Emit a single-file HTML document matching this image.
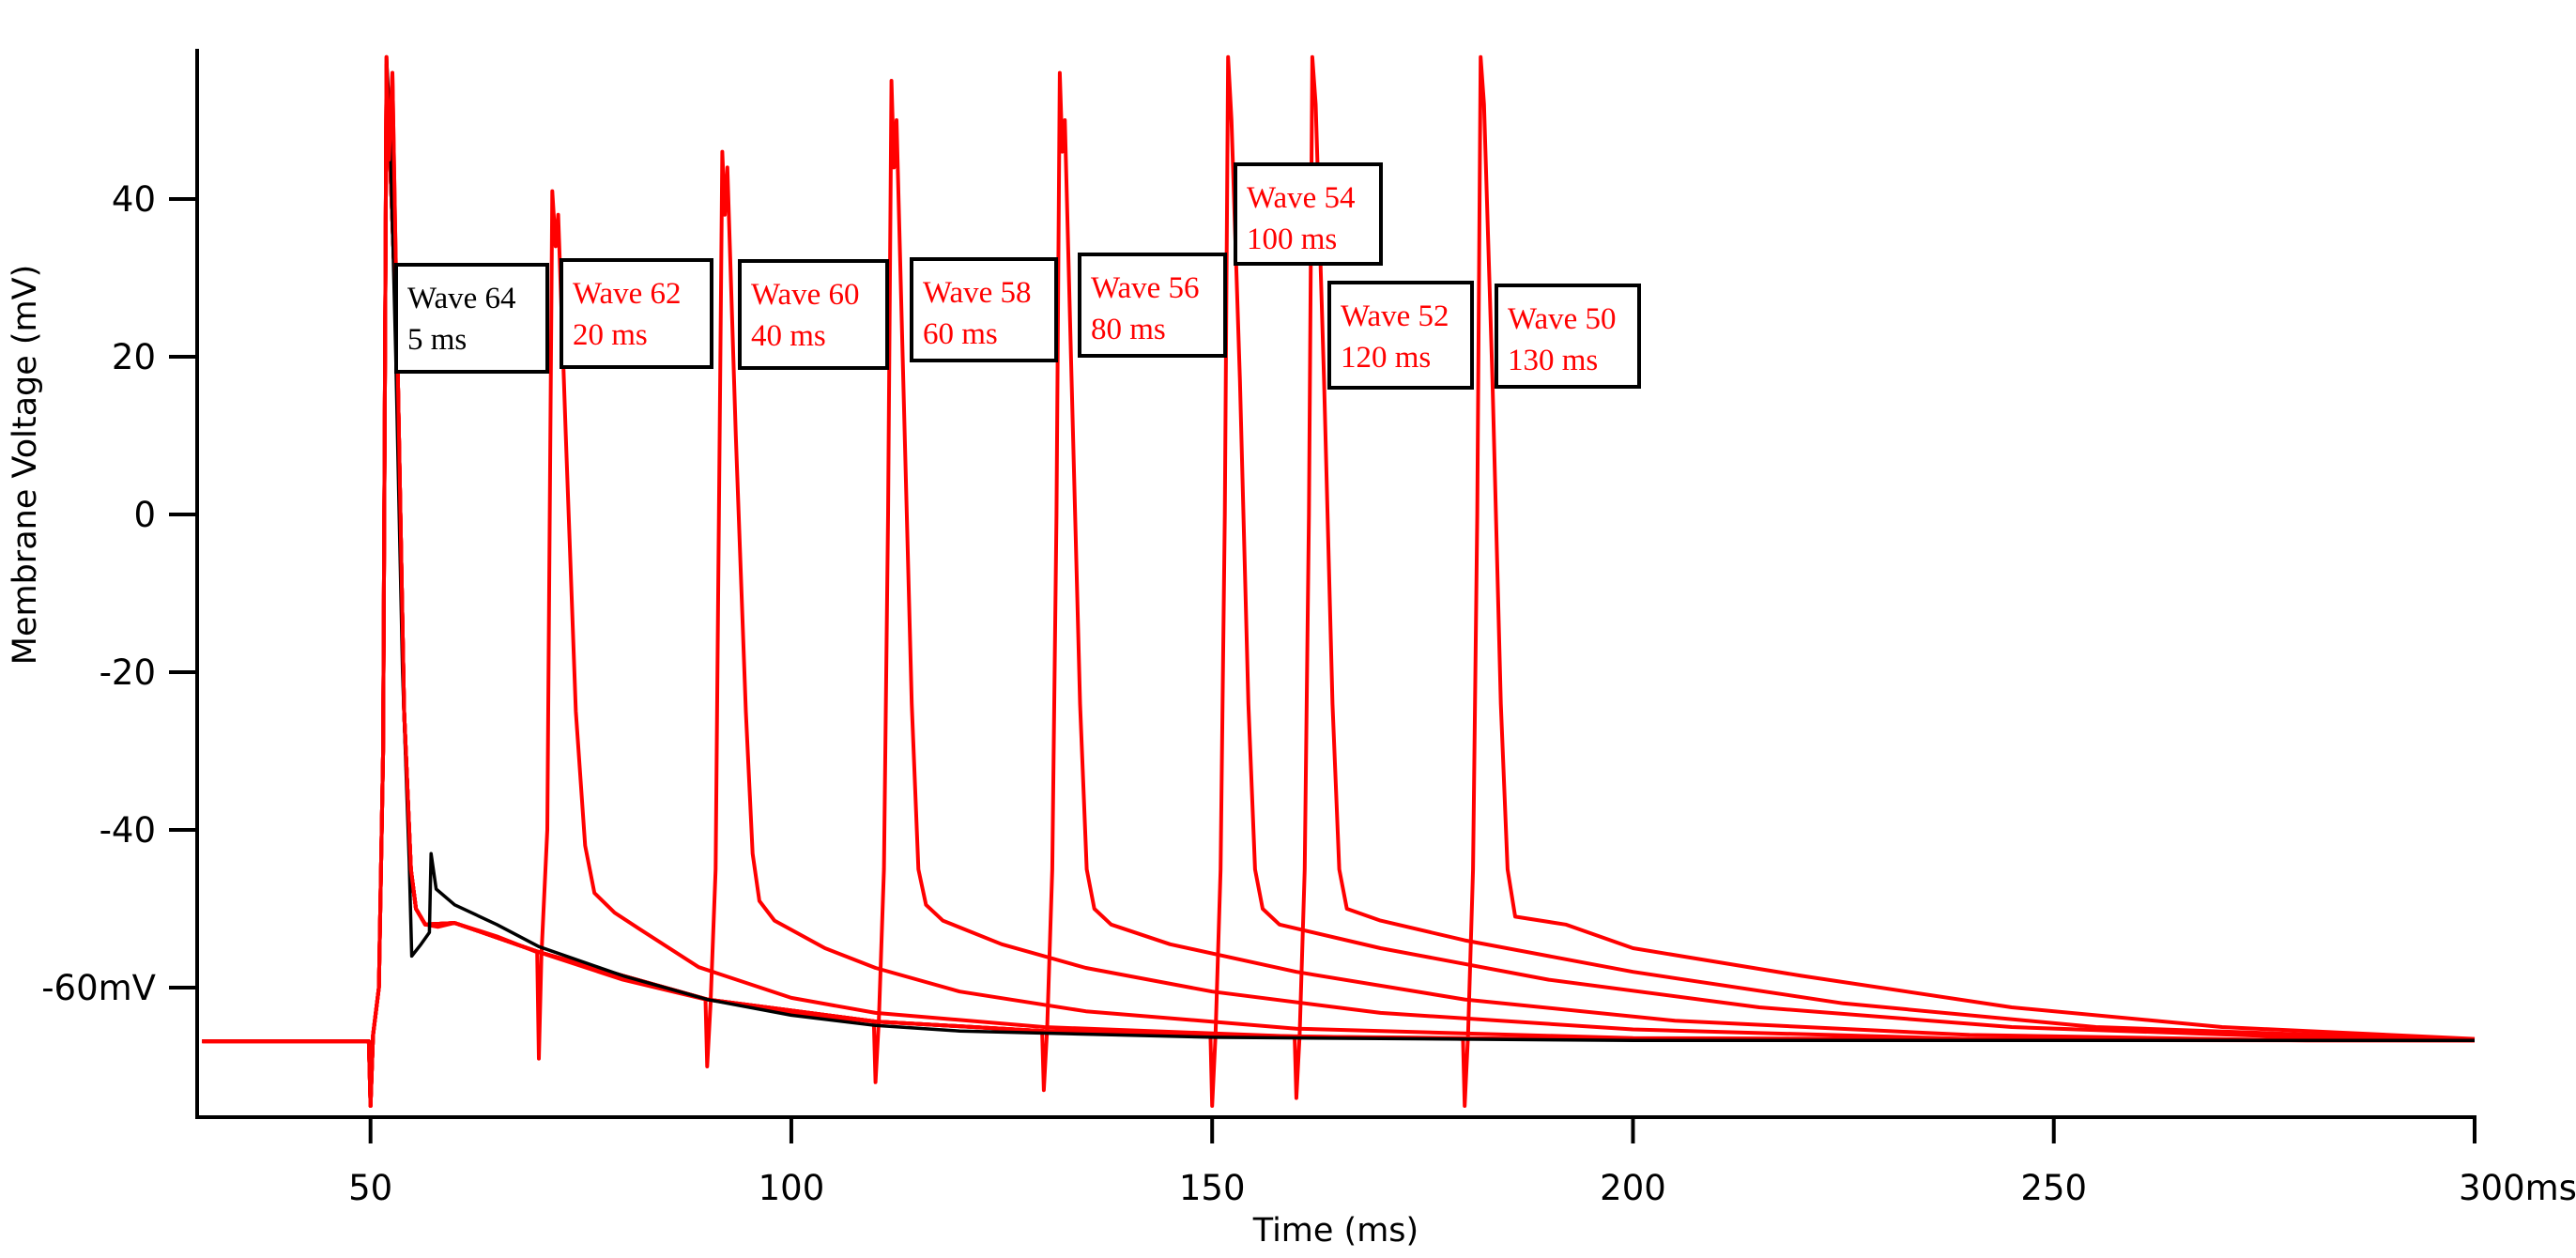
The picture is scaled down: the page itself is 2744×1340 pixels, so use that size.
<!DOCTYPE html>
<html><head><meta charset="utf-8"><style>
html,body{margin:0;padding:0;background:#fff;}
svg{display:block;}
</style></head><body>
<svg id="chart" width="2744" height="1340" viewBox="0 0 2744 1340" xmlns="http://www.w3.org/2000/svg"></svg>
<script>
// ---- data ----
const xTicks = [50, 100, 150, 200, 250, 300];
const xTickLabels = ["50", "100", "150", "200", "250", "300ms"];
const yTicks = [40, 20, 0, -20, -40, -60];
const yTickLabels = ["40", "20", "0", "-20", "-40", "-60mV"];

const wave64 = [[30,-66.8],[49.8,-66.8],[50,-73],[50.3,-66],[51,-60],[51.5,-30],[51.9,58],[52.3,50],[53,20],[53.8,-20],[54.6,-44],[54.9,-56],[56,-54.5],[57,-53],[57.2,-43],[57.8,-47.5],[60,-49.5],[65,-52],[70,-54.8],[80,-58.5],[90,-61.5],[100,-63.5],[110,-64.8],[120,-65.5],[150,-66.3],[200,-66.7],[300,-66.7]];
const wave62 = [[30,-66.8],[49.8,-66.8],[50,-75],[50.3,-66],[51,-60],[51.5,-30],[51.9,58],[52.2,45],[52.6,56],[53.2,20],[54,-25],[54.8,-45],[55.4,-50],[56.5,-52],[58,-52.3],[60,-51.8],[65,-53.5],[69.8,-55.5],[70,-69],[70.3,-56],[71,-40],[71.3,0],[71.6,41],[72,34],[72.3,38],[73.2,10],[74.4,-25],[75.5,-42],[76.6,-48],[79,-50.5],[82,-52.6],[89,-57.4],[100,-61.3],[110,-63.2],[130,-65],[160,-66.2],[200,-66.6],[300,-66.7]];
const wave60 = [[30,-66.8],[49.8,-66.8],[50,-75],[50.3,-66],[51,-60],[51.5,-30],[51.9,57],[53.2,20],[54,-25],[54.8,-45],[55.4,-50],[56.5,-52],[60,-51.8],[70,-55.5],[80,-59],[89.8,-61.5],[90,-70],[90.4,-62],[91,-45],[91.4,0],[91.8,46],[92.1,38],[92.4,44],[93.4,10],[94.6,-25],[95.4,-43],[96.2,-49],[98,-51.5],[104,-55],[110,-57.5],[120,-60.5],[135,-63],[160,-65.2],[200,-66.4],[300,-66.7]];
const wave58 = [[30,-66.8],[49.8,-66.8],[50,-75],[50.3,-66],[51,-60],[51.5,-30],[51.9,57],[53.2,20],[54,-25],[54.8,-45],[55.4,-50],[56.5,-52],[60,-51.8],[70,-55.5],[90,-61.5],[100,-63.2],[109.8,-64.3],[110,-72],[110.4,-64],[111,-45],[111.5,0],[111.9,55],[112.2,44],[112.5,50],[113.3,17],[114.3,-24],[115.1,-45],[116,-49.5],[118,-51.5],[125,-54.5],[135,-57.5],[150,-60.5],[170,-63.2],[200,-65.3],[240,-66.5],[300,-66.7]];
const wave56 = [[30,-66.8],[49.8,-66.8],[50,-75],[50.3,-66],[51,-60],[51.5,-30],[51.9,57],[53.2,20],[54,-25],[54.8,-45],[55.4,-50],[56.5,-52],[60,-51.8],[70,-55.5],[90,-61.5],[110,-64.3],[129.8,-65.5],[130,-73],[130.4,-65],[131,-45],[131.5,0],[131.9,56],[132.2,46],[132.5,50],[133.3,17],[134.3,-24],[135.1,-45],[136,-50],[138,-52],[145,-54.5],[160,-58],[180,-61.5],[205,-64.2],[240,-66],[280,-66.7],[300,-66.7]];
const wave54 = [[30,-66.8],[49.8,-66.8],[50,-75],[50.3,-66],[51,-60],[51.5,-30],[51.9,57],[53.2,20],[54,-25],[54.8,-45],[55.4,-50],[56.5,-52],[60,-51.8],[70,-55.5],[90,-61.5],[110,-64.3],[130,-65.5],[149.8,-66],[150,-75],[150.4,-66],[151,-45],[151.5,0],[151.9,58],[152.3,50],[153.3,17],[154.3,-24],[155.1,-45],[156,-50],[158,-52],[170,-55],[190,-59],[215,-62.5],[245,-65],[285,-66.5],[300,-66.7]];
const wave52 = [[30,-66.8],[49.8,-66.8],[50,-75],[50.3,-66],[51,-60],[51.5,-30],[51.9,57],[53.2,20],[54,-25],[54.8,-45],[55.4,-50],[56.5,-52],[60,-51.8],[70,-55.5],[90,-61.5],[110,-64.3],[130,-65.5],[150,-66],[159.8,-66.3],[160,-74],[160.4,-66],[161,-45],[161.5,0],[161.9,58],[162.3,52],[163.3,17],[164.3,-24],[165.1,-45],[166,-50],[170,-51.5],[180,-54],[200,-58],[225,-62],[255,-65],[295,-66.5],[300,-66.6]];
const wave50 = [[30,-66.8],[49.8,-66.8],[50,-75],[50.3,-66],[51,-60],[51.5,-30],[51.9,57],[53.2,20],[54,-25],[54.8,-45],[55.4,-50],[56.5,-52],[60,-51.8],[70,-55.5],[90,-61.5],[110,-64.3],[130,-65.5],[150,-66],[179.8,-66.5],[180,-75],[180.4,-66],[181,-45],[181.5,0],[181.9,58],[182.3,52],[183.3,17],[184.3,-24],[185.1,-45],[186,-51],[192,-52],[200,-55],[220,-58.5],[245,-62.5],[270,-65],[300,-66.5]];

const redWaves = [wave50, wave52, wave54, wave56, wave58, wave60, wave62];
const redNames = ["wave-50","wave-52","wave-54","wave-56","wave-58","wave-60","wave-62"];

const labelTitles = ["Wave 64","Wave 62","Wave 60","Wave 58","Wave 56","Wave 54","Wave 52","Wave 50"];
const labelDelays = ["5 ms","20 ms","40 ms","60 ms","80 ms","100 ms","120 ms","130 ms"];
const labelColors = ["#000","#f00","#f00","#f00","#f00","#f00","#f00","#f00"];
const labelBoxes = [[422,282,161,114],[598,277,160,114],[788,278,157,114],[971,276,154,108],[1150,271,155,108],[1316,175,155,106],[1416,301,152,112],[1594,304,152,108]];

// ---- scales ----
const X0=210, X1=2636, Y0=52, Y1=1190;
const xMin=29.4, xMax=300;
function sx(t){ return X0 + (t-xMin)/(xMax-xMin)*(X1-X0); }
function sy(v){ return 548 - v*8.4; }

const NS="http://www.w3.org/2000/svg";
const svg=document.getElementById('chart');
function mk(tag, attrs, parent){
  const e=document.createElementNS(NS,tag);
  for(const k in attrs) e.setAttribute(k, attrs[k]);
  (parent||svg).appendChild(e); return e;
}
function pathOf(arr){ return arr.map((p,i)=>(i?'L':'M')+sx(p[0]).toFixed(1)+','+sy(p[1]).toFixed(1)).join(''); }

const traces=mk('g',{});


redWaves.forEach((w,i)=>{
  const p=mk('path',{d:pathOf(w),fill:'none',stroke:'#f00','stroke-width':4,'stroke-linejoin':'round'},traces);
  
  
});
const bp=mk('path',{d:pathOf(wave64),fill:'none',stroke:'#000','stroke-width':3.5,'stroke-linejoin':'round'},traces);


const rp=mk('path',{d:pathOf(wave62.slice(0,14)),fill:'none',stroke:'#f00','stroke-width':4,'stroke-linejoin':'round'},traces);



// axes
const ax=mk('g',{stroke:'#000','stroke-width':4,fill:'none'});


const ya=mk('line',{x1:X0,y1:Y0,x2:X0,y2:Y1},ax);


const xa=mk('line',{x1:X0-2,y1:Y1,x2:X1+2,y2:Y1},ax);



xTicks.forEach((t,i)=>{
  const l=mk('line',{x1:sx(t),y1:Y1,x2:sx(t),y2:Y1+28},ax);
  
  
  const tx=mk('text',{x:sx(t)+(i==5?46:0),y:1278,'text-anchor':'middle','font-family':'DejaVu Sans, Liberation Sans, sans-serif','font-size':37,fill:'#000'});
  tx.textContent=xTickLabels[i];
  
  
});
yTicks.forEach((v,i)=>{
  const l=mk('line',{x1:X0-30,y1:sy(v),x2:X0,y2:sy(v)},ax);
  
  
  const tx=mk('text',{x:X0-44,y:sy(v)+13,'text-anchor':'end','font-family':'DejaVu Sans, Liberation Sans, sans-serif','font-size':37,fill:'#000'});
  tx.textContent=yTickLabels[i];
  
  
});
const xt=mk('text',{x:1423,y:1322,'text-anchor':'middle','font-family':'DejaVu Sans, Liberation Sans, sans-serif','font-size':35,fill:'#000'});
xt.textContent='Time (ms)';


const yt=mk('text',{x:0,y:0,transform:'translate(38,495) rotate(-90)','text-anchor':'middle','font-family':'DejaVu Sans, Liberation Sans, sans-serif','font-size':35,fill:'#000'});
yt.textContent='Membrane Voltage (mV)';



// labels
labelBoxes.forEach((b,i)=>{
  const g=mk('g',{});
  
  
  mk('rect',{x:b[0],y:b[1],width:b[2],height:b[3],fill:'#fff',stroke:'#000','stroke-width':4},g);
  const t1=mk('text',{x:b[0]+12,y:b[1]+46,'font-family':'Liberation Serif, serif','font-size':33,fill:labelColors[i]},g);
  t1.textContent=labelTitles[i];
  const t2=mk('text',{x:b[0]+12,y:b[1]+90,'font-family':'Liberation Serif, serif','font-size':33,fill:labelColors[i]},g);
  t2.textContent=labelDelays[i];
});
</script>
</body></html>
